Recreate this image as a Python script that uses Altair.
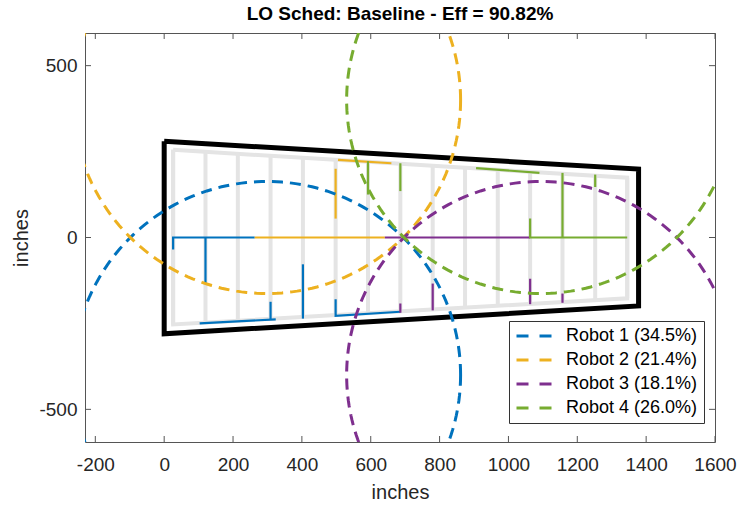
import altair as alt
import pandas as pd
import numpy as np

TITLE = "LO Sched: Baseline - Eff = 90.82%"
robot_labels = ["Robot 1 (34.5%)", "Robot 2 (21.4%)", "Robot 3 (18.1%)", "Robot 4 (26.0%)"]
robot_colors = ["#0072BD", "#EDB120", "#7E2F8E", "#77AC30"]

# dashed turning circles: centres and common radius
circle_cx = [298, 298, 1093, 1093]
circle_cy = [-400, 400, -400, 400]
circle_r = 563

# black field outline
outline_x = [0, 1378, 1378, 0, 0]
outline_y = [280, 199, -199, -280, 280]

# grey inner frame
frame_x = [26, 1345, 1345, 26, 26]
frame_y = [255, 174, -177, -253, 255]

# grey row lines (x positions)
row_x = [26, 120, 214, 309, 403, 498, 592, 686, 780, 874, 969, 1063, 1157, 1252, 1345]

# robot work paths (polylines)
robot1_paths = [
    [(263, 0), (26, 0), (26, -35)],
    [(120, 0), (120, -134)],
    [(103, -250), (324, -238)],
    [(309, -187), (309, -238)],
    [(403, -78), (403, -236)],
    [(498, -180), (498, -228), (686, -216)],
]
robot2_paths = [
    [(263, 0), (641, 0)],
    [(498, 200), (498, 55)],
    [(505, 226), (660, 216)],
]
robot3_paths = [
    [(641, 0), (1063, 0)],
    [(780, -134), (780, -212)],
    [(1063, -120), (1063, -194)],
    [(1157, -163), (1157, -190)],
    [(686, -192), (686, -219)],
]
robot4_paths = [
    [(1063, 55), (1063, 0), (1345, 0)],
    [(592, 222), (592, 125)],
    [(686, 216), (686, 135)],
    [(906, 202), (1090, 188)],
    [(1157, 188), (1157, 0)],
    [(1252, 183), (1252, 147)],
]

x_ticks = [-200, 0, 200, 400, 600, 800, 1000, 1200, 1400, 1600]
y_ticks = [-500, 0, 500]
XMIN, XMAX = -230, 1600
YMIN, YMAX = -595, 595

# ---------- tables ----------
outline_df = pd.DataFrame({"x": outline_x, "y": outline_y, "i": range(len(outline_x))})

grey_rows = []
for k, (fx, fy) in enumerate(zip(frame_x, frame_y)):
    grey_rows.append({"x": fx, "y": fy, "i": k, "seg": "frame"})
top_y = np.interp(row_x, [frame_x[0], frame_x[1]], [frame_y[0], frame_y[1]])
bot_y = np.interp(row_x, [frame_x[3], frame_x[2]], [frame_y[3], frame_y[2]])
for k, rx in enumerate(row_x):
    grey_rows.append({"x": rx, "y": float(top_y[k]), "i": 0, "seg": f"row{k}"})
    grey_rows.append({"x": rx, "y": float(bot_y[k]), "i": 1, "seg": f"row{k}"})
grey_df = pd.DataFrame(grey_rows)

path_rows = []
for r, paths in enumerate([robot1_paths, robot2_paths, robot3_paths, robot4_paths]):
    for s, poly in enumerate(paths):
        for i, (px, py) in enumerate(poly):
            path_rows.append({"x": px, "y": py, "i": i, "seg": f"r{r}s{s}", "col": robot_colors[r]})
path_df = pd.DataFrame(path_rows)

circ_rows = []
ang = np.linspace(0, 2 * np.pi, 241)
for r in range(4):
    for i, a in enumerate(ang):
        circ_rows.append({
            "x": circle_cx[r] + circle_r * np.cos(a),
            "y": circle_cy[r] + circle_r * np.sin(a),
            "i": i, "robot": robot_labels[r],
        })
circ_df = pd.DataFrame(circ_rows)

TL_X = 6 / 0.344
tick_rows = []
for t in x_ticks:
    tick_rows.append({"x": t, "y": YMIN, "x2": t, "y2": YMIN + TL_X})
    tick_rows.append({"x": t, "y": YMAX, "x2": t, "y2": YMAX - TL_X})
for t in y_ticks:
    tick_rows.append({"x": XMIN, "y": t, "x2": XMIN + TL_X, "y2": t})
    tick_rows.append({"x": XMAX, "y": t, "x2": XMAX - TL_X, "y2": t})
tick_df = pd.DataFrame(tick_rows)

# ---------- encodings ----------
xs = alt.Scale(domain=[XMIN, XMAX], nice=False, zero=False)
ys = alt.Scale(domain=[YMIN, YMAX], nice=False, zero=False)
xax = alt.Axis(values=x_ticks, title="inches", labelPadding=13, titlePadding=8,
               labelFlush=False, labelOverlap=False, labelExpr="'' + datum.value")
yax = alt.Axis(values=y_ticks, title="inches", labelPadding=8, titlePadding=7,
               labelFlush=False, labelOverlap=False, labelExpr="'' + datum.value")


def X():
    return alt.X("x:Q", scale=xs, axis=xax)


def Y():
    return alt.Y("y:Q", scale=ys, axis=yax)


grey = alt.Chart(grey_df).mark_line(color="#e4e4e4", strokeWidth=4, clip=True).encode(
    x=X(), y=Y(), order="i:Q", detail="seg:N")

paths = alt.Chart(path_df).mark_line(strokeWidth=2.2, clip=True).encode(
    x=X(), y=Y(), order="i:Q", detail="seg:N",
    color=alt.Color("col:N", scale=None))

outline = alt.Chart(outline_df).mark_line(color="black", strokeWidth=5, clip=True,
                                          strokeJoin="miter").encode(
    x=X(), y=Y(), order="i:Q")

circles = alt.Chart(circ_df).mark_line(strokeWidth=3, strokeDash=[11, 7], clip=True).encode(
    x=X(), y=Y(), order="i:Q",
    color=alt.Color("robot:N", scale=alt.Scale(domain=robot_labels, range=robot_colors),
                    legend=alt.Legend(title=None, orient="none", legendX=424, legendY=288,
                                      symbolType="stroke", symbolSize=1225,
                                      symbolStrokeWidth=3, symbolDash=[12, 11],
                                      clipHeight=18,
                                      labelFontSize=18, labelFont="Liberation Sans",
                                      labelColor="black", labelOffset=13,
                                      rowPadding=6, padding=6,
                                      strokeColor="#333333", fillColor="white")))

ticks = alt.Chart(tick_df).mark_rule(color="#555555", strokeWidth=1).encode(
    x=X(), y=Y(), x2="x2:Q", y2="y2:Q")

chart = alt.layer(grey, paths, outline, circles, ticks).resolve_scale(
    color="independent"
).properties(
    width=630, height=409,
    title=alt.TitleParams(TITLE, fontSize=19, font="Liberation Sans", fontWeight="bold",
                          anchor="middle", offset=9, color="black"),
    padding={"left": 85, "top": 33, "right": 23, "bottom": 64},
    autosize=alt.AutoSizeParams(type="none"),
).configure_axis(
    domain=False, ticks=False, grid=False,
    labelFont="Liberation Sans", labelFontSize=19, labelColor="#262626",
    titleFont="Liberation Sans", titleFontSize=20, titleFontWeight="normal", titleColor="#262626",
).configure_view(stroke="#555555", strokeWidth=1)

chart.save("out.html", embed_options={"renderer": "svg", "actions": False})
